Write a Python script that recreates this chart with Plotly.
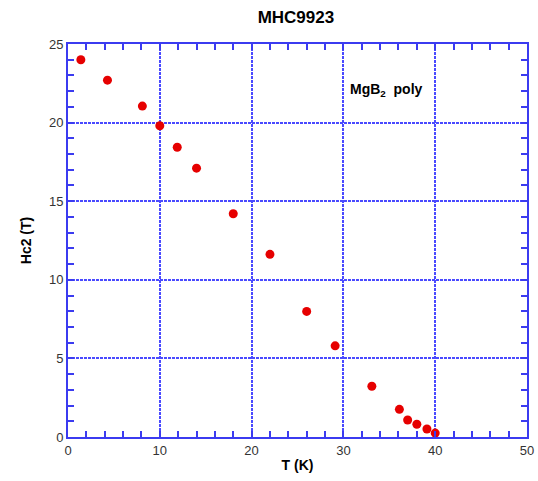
import plotly.graph_objects as go

# Upper critical field of polycrystalline MgB2
temperature_K = [1.4, 4.3, 8.1, 10.0, 11.9, 14.0, 18.0, 22.0, 26.0, 29.1,
                 33.1, 36.1, 37.0, 38.0, 39.1, 40.0]
hc2_T = [24.0, 22.7, 21.05, 19.8, 18.43, 17.1, 14.2, 11.62, 7.99, 5.8,
         3.23, 1.76, 1.08, 0.81, 0.51, 0.25]

x_ticks = [0, 10, 20, 30, 40, 50]
y_ticks = [0, 5, 10, 15, 20, 25]

axis_blue = "#3b3bf0"
font_family = "Liberation Sans, Arial, sans-serif"

fig = go.Figure()
fig.add_trace(go.Scatter(
    x=temperature_K, y=hc2_T, mode="markers",
    marker=dict(color="#e60000", size=9, line=dict(width=0)),
    showlegend=False,
))

common_axis = dict(
    showline=True, linecolor=axis_blue, linewidth=2, mirror="ticks",
    ticks="inside", ticklen=6, tickcolor=axis_blue, tickwidth=1.5,
    showgrid=True, gridcolor="#4a4aff", griddash="3px,1px", gridwidth=1.5,
    zeroline=False, automargin=False,
    tickfont=dict(family=font_family, size=13, color="#333333"),
)

fig.update_xaxes(
    range=[0, 50], tickvals=x_ticks,
    minor=dict(ticks="inside", dtick=2, ticklen=6, tickcolor=axis_blue, showgrid=False),
    title=dict(text="<b>T (K)</b>", font=dict(family=font_family, size=14, color="black"), standoff=4),
    **common_axis,
)
fig.update_yaxes(
    range=[0, 25], tickvals=y_ticks,
    minor=dict(ticks="inside", dtick=1, ticklen=6, tickcolor=axis_blue, showgrid=False),
    title=dict(text="<b>Hc2 (T)</b>", font=dict(family=font_family, size=14, color="black"), standoff=14),
    **common_axis,
)

fig.add_annotation(
    x=30.55, y=22.08, xref="x", yref="y", xanchor="left", yanchor="middle",
    text="<b>MgB<sub>2</sub>  poly</b>", showarrow=False,
    font=dict(family=font_family, size=14, color="black"),
)

fig.update_layout(
    width=538, height=481,
    margin=dict(l=68, r=11, t=44, b=44),
    paper_bgcolor="white", plot_bgcolor="white",
    title=dict(text="<b>MHC9923</b>", x=0.55, xanchor="center", y=0.965, yanchor="middle",
               font=dict(family=font_family, size=17, color="black")),
)

fig.write_html("out.html")
